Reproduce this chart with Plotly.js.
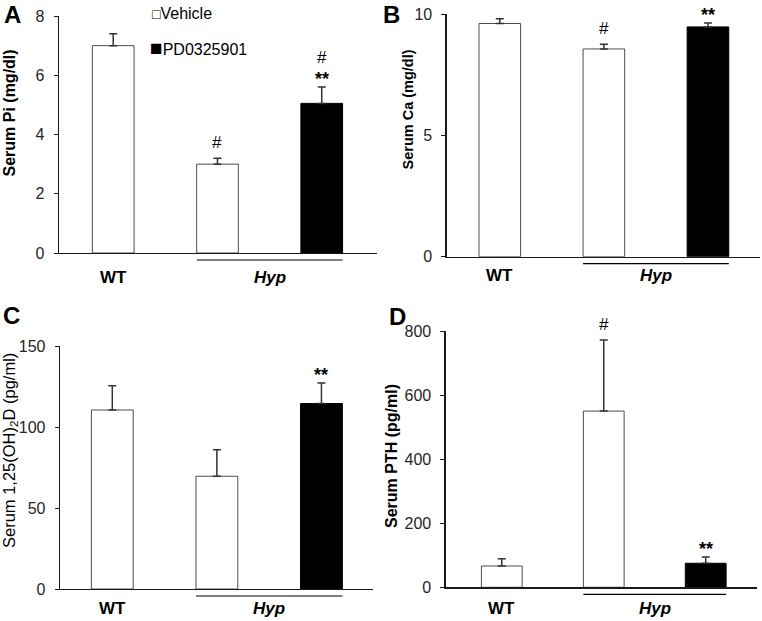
<!DOCTYPE html>
<html>
<head>
<meta charset="utf-8">
<script src="https://cdn.plot.ly/plotly-3.0.1.min.js"></script>
<style>html,body{margin:0;padding:0;background:#fff;}#chart{width:762px;height:621px;}</style>
</head>
<body>
<div id="chart"></div>
<script>
// ---- data ----
const groups = ['WT', 'Hyp', 'Hyp'];
const treatments = ['Vehicle', 'Vehicle', 'PD0325901'];
const xTickLabels = ['WT', 'Hyp'];
const legendLabels = ['Vehicle', 'PD0325901'];

const piMean = [7.0, 3.0, 5.05];
const piErr = [0.4, 0.2, 0.55];
const piMarks = [[], ['#'], ['**', '#']];

const caMean = [9.62, 8.57, 9.48];
const caErr = [0.2, 0.19, 0.16];
const caMarks = [[], ['#'], ['**']];

const vdMean = [110.5, 69.6, 114.5];
const vdErr = [15, 16.4, 12.6];
const vdMarks = [[], [], ['**']];

const pthMean = [66.5, 550, 75];
const pthErr = [22.5, 222, 19.6];
const pthMarks = [[], ['#'], ['**']];

// ---- layout config ----
const W = 762, H = 621;
const FONT = 'Arial, "Liberation Sans", sans-serif';
const BAR_W = 0.4;
const panels = [
  {letter: 'A', mean: piMean, err: piErr, marks: piMarks, title: '<b>Serum Pi (mg/dl)</b>', titleSize: 16,
   range: [0, 8], dtick: 2, xPx: [59, 377], yPx: [16, 253], xr: [-0.52, 2.53], titlePos: [9, 113.5], letterPos: [12, 14.5], labOff: 24.5},
  {letter: 'B', mean: caMean, err: caErr, marks: caMarks, title: '<b>Serum Ca (mg/dl)</b>', titleSize: 14.5,
   range: [0, 10], dtick: 5, xPx: [446.7, 760], yPx: [14.3, 256.7], xr: [-0.51, 2.5], titlePos: [407.5, 110], letterPos: [391, 14.5], labOff: 18.5},
  {letter: 'C', mean: vdMean, err: vdErr, marks: vdMarks, title: 'Serum 1,25(OH)<sub>2</sub>D (pg/ml)', titleSize: 16.5,
   range: [0, 150], dtick: 50, xPx: [60, 372.7], yPx: [346, 589], xr: [-0.5, 2.49], titlePos: [10, 451], letterPos: [11, 315], labOff: 19.5},
  {letter: 'D', mean: pthMean, err: pthErr, marks: pthMarks, title: '<b>Serum PTH (pg/ml)</b>', titleSize: 16,
   range: [0, 800], dtick: 200, xPx: [445.7, 756.7], yPx: [331, 587.3], xr: [-0.55, 2.5], titlePos: [391, 456], letterPos: [397, 316], labOff: 21.5}
];

const traces = [];
const annotations = [];
const shapes = [];
const layout = {
  width: W, height: H,
  margin: {l: 0, r: 0, t: 0, b: 0},
  paper_bgcolor: '#ffffff', plot_bgcolor: 'rgba(0,0,0,0)',
  showlegend: false, barmode: 'overlay',
  font: {family: FONT, color: '#262626', size: 16},
  annotations: annotations, shapes: shapes
};

panels.forEach((p, i) => {
  const sfx = i === 0 ? '' : String(i + 1);
  const xa = 'x' + sfx, ya = 'y' + sfx;
  const idx = [0, 1, 2];
  legendLabels.forEach(tr => {
    const sel = idx.filter(k => treatments[k] === tr);
    traces.push({
      type: 'bar', name: tr, xaxis: xa, yaxis: ya,
      x: sel, y: sel.map(k => p.mean[k]), width: BAR_W,
      marker: {color: tr === 'Vehicle' ? '#ffffff' : '#000000', line: {color: tr === 'Vehicle' ? '#4d4d4d' : '#000000', width: 1}},
      error_y: {type: 'data', symmetric: false, array: sel.map(k => p.err[k]), arrayminus: sel.map(() => 0),
                color: '#333333', thickness: 1.5, width: 4},
      hoverinfo: 'skip'
    });
  });
  const hPx = p.yPx[1] - p.yPx[0];
  layout['xaxis' + sfx] = {
    domain: [p.xPx[0] / W, p.xPx[1] / W], range: p.xr, anchor: ya,
    showline: true, linecolor: '#1a1a1a', linewidth: 1.3,
    showgrid: false, zeroline: false, ticks: '', showticklabels: false, fixedrange: true
  };
  layout['yaxis' + sfx] = {
    domain: [1 - p.yPx[1] / H, 1 - p.yPx[0] / H], range: p.range, anchor: xa,
    showline: true, linecolor: '#1a1a1a', linewidth: 1.3,
    showgrid: false, zeroline: false, ticks: 'outside', ticklen: 4, tickcolor: '#1a1a1a',
    dtick: p.dtick, tick0: 0, tickfont: {size: 16, color: '#262626', family: FONT}, ticklabelstandoff: 6, fixedrange: true
  };
  // group labels under the axis: WT under its bar, Hyp centred under the two Hyp bars
  const hypIdx = idx.filter(k => groups[k] === 'Hyp');
  const wtIdx = idx.filter(k => groups[k] === 'WT');
  const groupX = [wtIdx.reduce((a, b) => a + b, 0) / wtIdx.length, hypIdx.reduce((a, b) => a + b, 0) / hypIdx.length];
  xTickLabels.forEach((t, k) => {
    annotations.push({xref: xa, yref: ya + ' domain', x: groupX[k], y: 0, yshift: -p.labOff,
      text: k === 0 ? '<b>' + t + '</b>' : '<b><i>' + t + '</i></b>', showarrow: false,
      xanchor: 'center', yanchor: 'middle', font: {size: 17, color: '#000000', family: FONT}});
  });
  // Hyp underline spanning the two Hyp bars
  shapes.push({type: 'line', xref: xa, yref: ya + ' domain',
    x0: Math.min(...hypIdx) - BAR_W / 2, x1: Math.max(...hypIdx) + BAR_W / 2,
    y0: -7 / hPx, y1: -7 / hPx, line: {color: '#000000', width: 1.2}});
  // significance marks
  p.marks.forEach((ms, k) => {
    let pos = 0;
    ms.forEach((m, j) => {
      pos += (m === '**') ? 12 : (j === 0 ? 15.5 : 18);
      annotations.push({xref: xa, yref: ya, x: k, y: p.mean[k] + p.err[k],
        text: m === '**' ? '<b>' + m + '</b>' : m, showarrow: false,
        xanchor: 'center', yanchor: 'middle', yshift: m === '**' ? pos - 4 : pos,
        font: {size: m === '**' ? 18 : 17, color: '#000000', family: FONT}});
    });
  });
  // y title
  annotations.push({xref: 'paper', yref: 'paper', x: p.titlePos[0] / W, y: 1 - p.titlePos[1] / H,
    text: p.title, textangle: -90, showarrow: false, xanchor: 'center', yanchor: 'middle',
    font: {size: p.titleSize, color: '#000000', family: FONT}});
  // panel letter
  annotations.push({xref: 'paper', yref: 'paper', x: p.letterPos[0] / W, y: 1 - p.letterPos[1] / H,
    text: '<b>' + p.letter + '</b>', showarrow: false, xanchor: 'center', yanchor: 'middle',
    font: {size: 24, color: '#000000', family: FONT}});
});

// legend (panel A)
annotations.push({xref: 'paper', yref: 'paper', x: 150 / W, y: 1 - 14 / H,
  text: '<span style="font-size:14px">\u25A1</span>' + legendLabels[0],
  showarrow: false, xanchor: 'left', yanchor: 'middle', font: {size: 16, color: '#000000', family: FONT}});
annotations.push({xref: 'paper', yref: 'paper', x: 148 / W, y: 1 - 47 / H,
  text: '<span style="font-size:21px">\u25A0</span>' + legendLabels[1],
  showarrow: false, xanchor: 'left', yanchor: 'middle', font: {size: 16, color: '#000000', family: FONT}});

Plotly.newPlot('chart', traces, layout, {displayModeBar: false, staticPlot: true});
</script>
</body>
</html>
